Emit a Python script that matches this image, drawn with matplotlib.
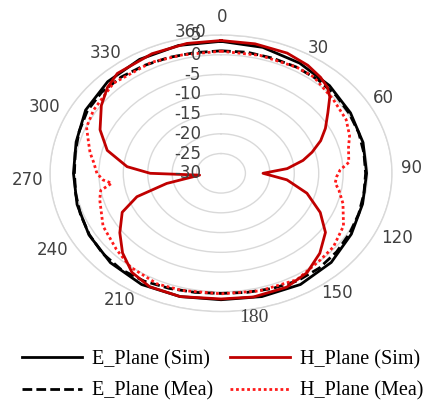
import numpy as np
import matplotlib
matplotlib.use("Agg")
import matplotlib.pyplot as plt
from matplotlib.lines import Line2D

# ---- radiation pattern data (dB) ----
# E-plane, simulated
e_sim_deg = [0, 15, 30, 45, 60, 75, 90, 105, 120, 135, 150, 165, 180,
             195, 210, 225, 240, 255, 270, 285, 300, 315, 330, 345, 360]
e_sim_db = [3.4, 3.0, 2.2, 1.4, 0.6, 0.1, -0.2, 0.0, 0.8, 1.9, 2.5, 2.3, 2.0,
            2.3, 2.5, 2.0, 1.2, 0.5, 0.2, 0.7, 2.0, 2.8, 3.3, 3.5, 3.4]

# E-plane, measured
e_mea_deg = list(range(0, 361, 10))
e_mea_db = [1.0, 1.1, 1.0, 1.0, 0.9, 0.7, 0.3, 0.0, -0.3, -0.4,
            -0.3, 0.0, 0.4, 0.9, 1.3, 1.4, 1.0, 0.6, 0.4, 0.6,
            1.0, 1.5, 1.8, 1.6, 1.1, 0.6, 0.2, 0.0, 0.3, 0.9,
            1.6, 1.9, 1.8, 1.5, 1.2, 1.0, 1.0]

# H-plane, simulated
h_sim_deg = [0, 12, 24, 33, 40, 45, 49, 55, 62, 68, 74, 79, 85, 90, 97, 106,
             116, 125, 135, 145, 155, 168, 180, 195, 207, 216, 225, 234, 244,
             251, 257, 264, 270, 275, 284, 294, 305, 313, 320, 335, 348, 360]
h_sim_db = [3.6, 3.5, 3.3, 2.6, 1.7, 0.8, -0.5, -3.3, -5.8, -8.0, -10.6, -12.9,
            -16.4, -21.4, -16.4, -11.7, -7.4, -3.9, -1.4, 0.7, 1.8, 2.0, 1.8,
            2.3, 2.2, 1.0, -1.5, -4.4, -7.5, -11.8, -18.6, -25.6, -15.5, -10.7,
            -6.0, -2.9, -0.1, 1.8, 3.0, 3.4, 3.6, 3.6]

# H-plane, measured
h_mea_deg = [0, 15, 30, 38, 51, 62, 70, 76, 84, 88, 92, 96, 100, 107, 118, 129,
             137, 150, 165, 180, 195, 205, 218, 228, 241, 255, 260, 263.6, 266,
             270, 276, 281, 286, 293, 301.5, 316, 333, 345, 360]
h_mea_db = [0.9, 0.9, 1.0, 0.9, -0.4, -1.0, -2.0, -3.1, -3.7, -5.6, -6.3, -6.5,
            -5.5, -3.9, -1.6, -0.4, -0.1, 1.1, 0.8, 0.5, 0.7, 0.9, 0.1, -1.2,
            -2.4, -4.3, -5.0, -7.5, -5.8, -4.6, -3.8, -2.7, -1.8, -0.1, 0.6,
            1.7, 1.5, 1.0, 0.9]

r_ticks = [5, 0, -5, -10, -15, -20, -25, -30]
r_labels = ["5", "0", "-5", "-10", "-15", "-20", "-25", "-30"]
angle_labels = ["0", "30", "60", "90", "120", "150", "180",
                "210", "240", "270", "300", "330", "360"]

series_names = ["E_Plane (Sim)", "E_Plane (Mea)", "H_Plane (Sim)", "H_Plane (Mea)"]

# ---- figure ----
W, H = 432, 404
fig = plt.figure(figsize=(W / 100, H / 100), dpi=100)


def fig_xy(px, py):
    return px / W, 1 - py / H


ax = fig.add_axes([50 / W, 1 - 311.6 / H, 342 / W, 276.6 / H], projection="polar")
ax.set_aspect("auto")
ax.set_theta_zero_location("N")
ax.set_theta_direction(-1)
ax.set_ylim(-30, 5)
ax.set_yticks([t for t in r_ticks if t > -30])
ax.set_yticklabels([])
ax.set_xticks([])
ax.yaxis.grid(True, color="#d9d9d9", lw=1.0)
ax.spines["polar"].set_color("#d9d9d9")
ax.spines["polar"].set_linewidth(1.0)

LW = 2.0
black = "#000000"
dark_red = "#c00000"
red = "#ff1a1a"
dash = (0, (3.5, 1.5))
dot = (0, (1, 1))

ax.plot(np.deg2rad(e_sim_deg), e_sim_db, color=black, lw=LW, zorder=3)
ax.plot(np.deg2rad(e_mea_deg), e_mea_db, color=black, lw=LW, ls=dash, zorder=4)
ax.plot(np.deg2rad(h_mea_deg), h_mea_db, color=red, lw=LW, ls=dot, zorder=5)
ax.plot(np.deg2rad(h_sim_deg), h_sim_db, color=dark_red, lw=LW, zorder=6)

# radial scale printed along the 0-degree direction
for v, s in zip(r_ticks, r_labels):
    ax.annotate(s, xy=(0, v), xytext=(-20, 0), textcoords="offset pixels",
                ha="right", va="center", fontsize=12, color="#404040",
                family="DejaVu Sans", zorder=7)

# angle labels around the chart
label_pos = {
    "0": (222, 17), "30": (318, 48), "60": (383, 98), "90": (412, 168),
    "120": (397, 238), "150": (337, 293), "180": (254, 318),
    "210": (120, 300), "240": (53, 250), "270": (28, 180),
    "300": (45, 107), "330": (106, 53), "360": (191, 32),
}
for s in angle_labels:
    x, y = fig_xy(*label_pos[s])
    fam = "Liberation Serif" if s == "180" else "DejaVu Sans"
    size = 14 if s == "180" else 12
    fig.text(x, y, s, ha="center", va="center", fontsize=size,
             color="#404040", family=fam)

handles = [
    Line2D([], [], color=black, lw=LW),
    Line2D([], [], color=black, lw=LW, ls=dash),
    Line2D([], [], color=dark_red, lw=LW),
    Line2D([], [], color=red, lw=LW, ls=dot),
]
fig.legend(handles, series_names, ncol=2, loc="upper left",
           bbox_to_anchor=fig_xy(22, 350), frameon=False,
           prop={"family": "Liberation Serif", "size": 14.5},
           handlelength=3.0, handletextpad=0.5, columnspacing=0.8,
           labelspacing=0.6, borderpad=0, borderaxespad=0)

fig.savefig("out.png", dpi=100)
